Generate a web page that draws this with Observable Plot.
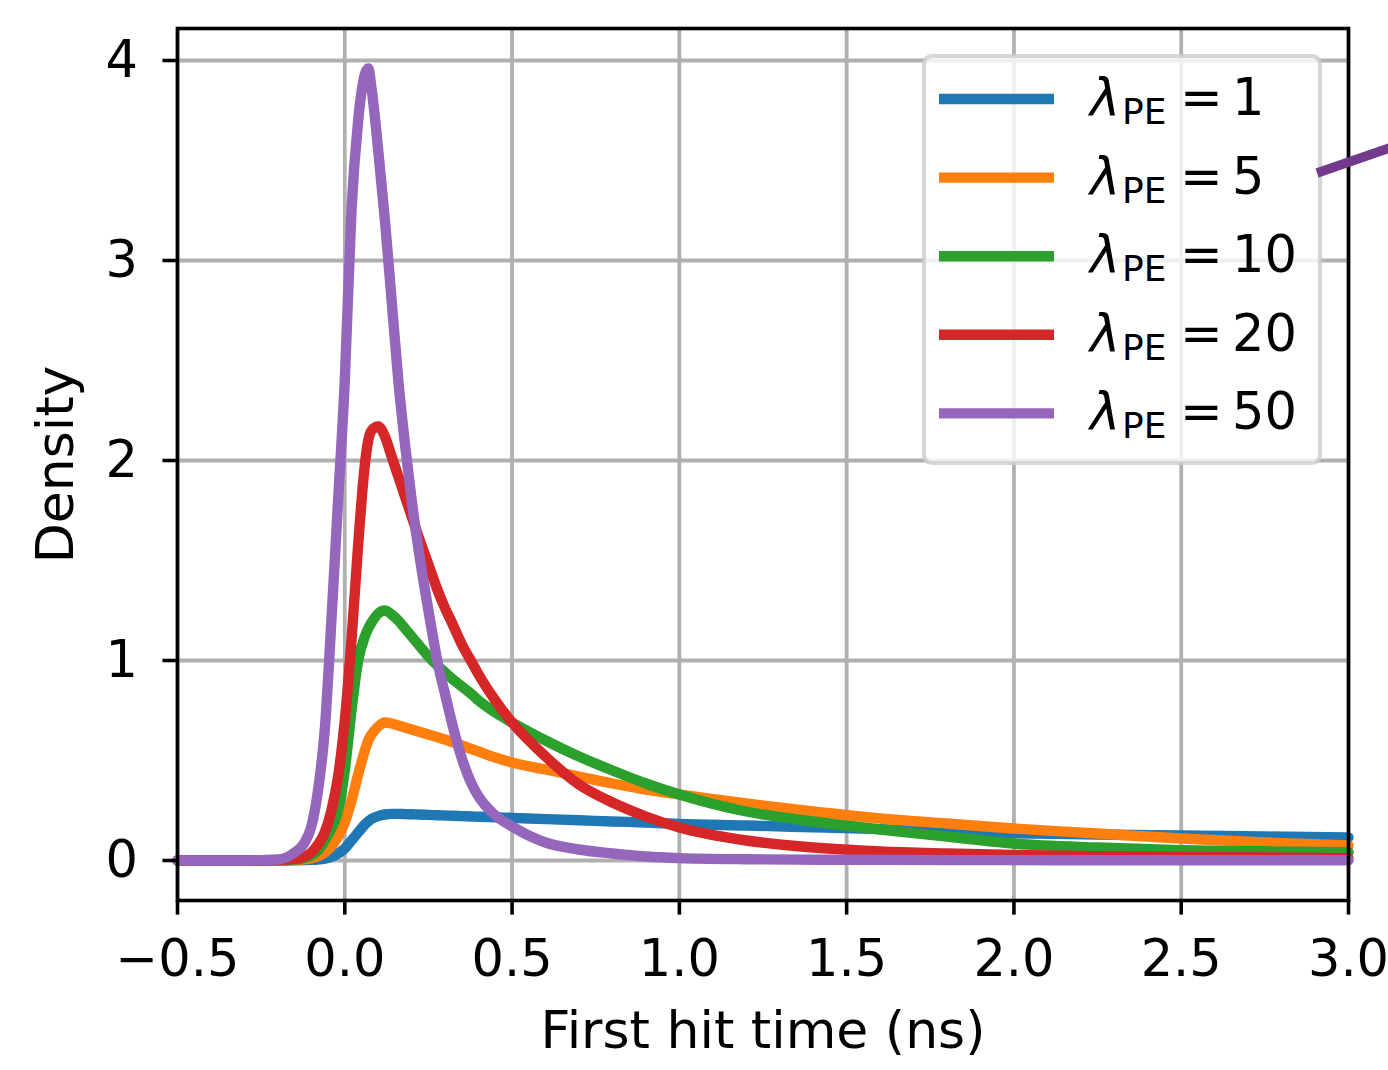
<!DOCTYPE html>
<html><head><meta charset="utf-8">
<script src="https://cdn.jsdelivr.net/npm/d3@7"></script>
<script src="https://cdn.jsdelivr.net/npm/@observablehq/plot@0.6"></script>
<style>
html,body{margin:0;padding:0;background:#fff;}
#chart{position:relative;width:1388px;height:1070px;overflow:hidden;}
#chart svg{display:block;}
</style></head><body><div id="chart"></div>
<script>
// ---- data ----
const time = [-0.5, -0.3, -0.2, -0.15, -0.12, -0.1, -0.08, -0.06, -0.04, -0.02,
  0.0, 0.02, 0.04, 0.06, 0.07, 0.08, 0.1, 0.12, 0.14, 0.16, 0.18, 0.2, 0.22,
  0.25, 0.28, 0.3, 0.32, 0.35, 0.38, 0.4, 0.45, 0.5, 0.6, 0.7, 0.8, 0.9, 1.0,
  1.2, 1.4, 1.6, 1.8, 2.0, 2.25, 2.5, 2.75, 3.0];
const lambdas = [1, 5, 10, 20, 50];
const dens1 = [0, 0, 0, 0.001, 0.002, 0.003, 0.005, 0.009, 0.018, 0.035,
  0.06, 0.1, 0.14, 0.18, 0.195, 0.208, 0.222, 0.23, 0.233, 0.233, 0.232, 0.231, 0.23,
  0.228, 0.226, 0.225, 0.224, 0.222, 0.220, 0.219, 0.216, 0.213, 0.207, 0.201, 0.195, 0.19, 0.183,
  0.175, 0.166, 0.157, 0.146, 0.136, 0.13, 0.125, 0.12, 0.115];
const dens5 = [0, 0, 0.001, 0.003, 0.006, 0.012, 0.022, 0.04, 0.07, 0.12,
  0.19, 0.3, 0.43, 0.55, 0.6, 0.63, 0.67, 0.69, 0.685, 0.675, 0.665, 0.655, 0.645,
  0.63, 0.615, 0.605, 0.593, 0.575, 0.557, 0.545, 0.515, 0.49, 0.455, 0.42, 0.385, 0.355, 0.33,
  0.285, 0.245, 0.21, 0.185, 0.16, 0.135, 0.11, 0.09, 0.075];
const dens10 = [0, 0, 0.001, 0.005, 0.012, 0.025, 0.05, 0.1, 0.16, 0.25,
  0.45, 0.75, 1.0, 1.12, 1.16, 1.19, 1.235, 1.25, 1.23, 1.2, 1.16, 1.12, 1.08,
  1.02, 0.97, 0.94, 0.91, 0.87, 0.83, 0.8, 0.74, 0.69, 0.6, 0.52, 0.45, 0.385, 0.33,
  0.245, 0.195, 0.155, 0.12, 0.085, 0.065, 0.052, 0.046, 0.042];
const dens20 = [0, 0, 0.002, 0.008, 0.02, 0.04, 0.08, 0.14, 0.25, 0.42,
  0.7, 1.1, 1.58, 1.98, 2.1, 2.15, 2.17, 2.12, 2.02, 1.92, 1.82, 1.72, 1.62,
  1.48, 1.34, 1.26, 1.19, 1.08, 0.99, 0.93, 0.8, 0.69, 0.52, 0.38, 0.29, 0.22, 0.165,
  0.1, 0.065, 0.045, 0.035, 0.028, 0.022, 0.018, 0.015, 0.012];
const dens50 = [0, 0, 0.005, 0.04, 0.09, 0.17, 0.35, 0.65, 1.2, 1.8,
  2.4, 3.25, 3.7, 3.93, 3.96, 3.86, 3.55, 3.2, 2.8, 2.4, 2.08, 1.8, 1.56,
  1.25, 0.97, 0.83, 0.69, 0.51, 0.38, 0.32, 0.225, 0.17, 0.09, 0.055, 0.035, 0.02, 0.012,
  0.006, 0.004, 0.003, 0.002, 0.002, 0.001, 0.001, 0.001, 0.001];
const colors = ["#1f77b4", "#ff7f0e", "#2ca02c", "#d62728", "#9467bd"];
const xTicks = [-0.5, 0.0, 0.5, 1.0, 1.5, 2.0, 2.5, 3.0];
const yTicks = [0, 1, 2, 3, 4];
const xLabel = "First hit time (ns)";
const yLabel = "Density";
// stray annotation stroke at the top right (data coordinates)
const strayArrow = [{t: 2.906, density: 3.437}, {t: 3.16, density: 3.584}];

// ---- build table ----
const series = [dens1, dens5, dens10, dens20, dens50];
const rows = [];
series.forEach((vals, i) => vals.forEach((v, j) => rows.push({t: time[j], density: v, lambda: lambdas[i]})));

const FONT = "DejaVu Sans";
const FS = 51;
const LW = 10.4;
const fmtX = d => (d < 0 ? "\u2212" : "") + Math.abs(d).toFixed(1);

const plot = Plot.plot({
  width: 1388, height: 1070,
  marginLeft: 177, marginRight: 40, marginTop: 28, marginBottom: 170,
  style: {fontFamily: FONT, fontSize: FS + "px", background: "white", color: "black"},
  x: {domain: [-0.5, 3.0]},
  y: {domain: [-0.2, 4.16]},
  color: {domain: lambdas, range: colors},
  marks: [
    Plot.gridX(xTicks, {stroke: "#b0b0b0", strokeOpacity: 1, strokeWidth: 3.8}),
    Plot.gridY(yTicks, {stroke: "#b0b0b0", strokeOpacity: 1, strokeWidth: 3.8}),
    Plot.line(rows, {x: "t", y: "density", z: "lambda", stroke: "lambda",
      strokeWidth: LW, curve: "monotone-x", strokeLinejoin: "round"}),
    Plot.frame({stroke: "black", strokeWidth: 3.6}),
    Plot.axisX(xTicks, {tickSize: 14.6, tickPadding: 25, tickFormat: fmtX,
      fontSize: FS, strokeWidth: 3.6, label: null}),
    Plot.axisY(yTicks, {tickSize: 14.6, tickPadding: 25, tickFormat: d => String(d),
      fontSize: FS, strokeWidth: 3.6, label: null}),
    Plot.text([xLabel], {frameAnchor: "bottom", lineAnchor: "top", textAnchor: "middle", dy: 111,
      fontSize: 52, text: d => d}),
    Plot.text([yLabel], {frameAnchor: "left", lineAnchor: "top", textAnchor: "middle", rotate: -90, dx: -141,
      fontSize: 52, text: d => d}),
    Plot.line(strayArrow, {x: "t", y: "density", stroke: "#72398d", strokeWidth: 9.5,
      strokeLinecap: "butt"})
  ]
});
document.getElementById("chart").appendChild(plot);

const svg = d3.select(plot);
const lineGroups = svg.selectAll('g[aria-label="line"]').nodes();
lineGroups.forEach((g, k) => {
  const w = k === lineGroups.length - 1 ? 9.5 : LW;
  d3.select(g).attr("stroke-width", w).selectAll("path").attr("stroke-width", w);
});

// ---- legend (inside the same svg) ----
const lg = svg.append("g").attr("class", "legend").attr("text-anchor", "start");
lg.append("rect").attr("x", 924).attr("y", 56).attr("width", 396).attr("height", 407)
  .attr("rx", 8).attr("fill", "white").attr("fill-opacity", 0.8)
  .attr("stroke", "#cccccc").attr("stroke-opacity", 0.8).attr("stroke-width", 4.2);
lambdas.forEach((lam, i) => {
  const cy = 99 + i * 78.6;
  lg.append("line").attr("x1", 939).attr("x2", 1054).attr("y1", cy).attr("y2", cy)
    .attr("stroke", colors[i]).attr("stroke-width", LW);
  const tx = lg.append("text").attr("font-family", FONT).attr("fill", "black")
    .attr("text-anchor", "start");
  tx.append("tspan").attr("x", 1090).attr("y", cy + 16).attr("font-size", FS)
    .attr("font-style", "italic").text("\u03bb");
  tx.append("tspan").attr("x", 1122).attr("y", cy + 25).attr("font-size", 36).text("PE");
  tx.append("tspan").attr("x", 1180).attr("y", cy + 16).attr("font-size", FS).text("=");
  tx.append("tspan").attr("x", 1232).attr("y", cy + 16).attr("font-size", FS).text(String(lam));
});
if (lineGroups.length) d3.select(lineGroups[lineGroups.length - 1]).raise();
</script></body></html>
